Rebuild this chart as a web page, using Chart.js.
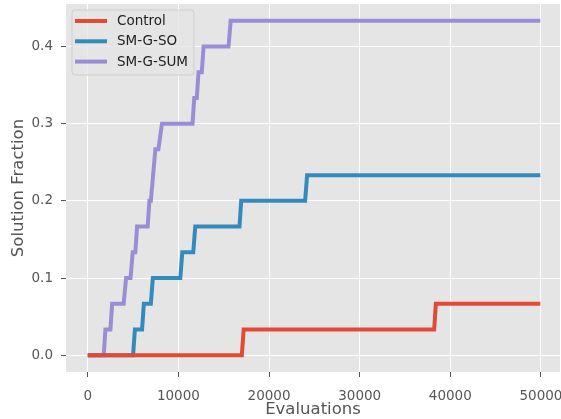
<!DOCTYPE html>
<html>
<head>
<meta charset="utf-8">
<script src="https://cdn.jsdelivr.net/npm/chart.js@4/dist/chart.umd.min.js"></script>
<style>
  html, body { margin: 0; padding: 0; background: #ffffff; }
  #wrap { width: 561px; height: 419px; }
</style>
</head>
<body>
<div id="wrap"><canvas id="c" width="561" height="419"></canvas></div>
<script>
// ---- data ----
const seriesNames = ["Control", "SM-G-SO", "SM-G-SUM"];
const seriesColors = ["#E24A33", "#348ABD", "#988ED5"];

const controlEvals = [0, 17000, 17200, 38220, 38400, 49930];
const controlFrac  = [0, 0, 0.0333, 0.0333, 0.0667, 0.0667];

const soEvals = [0, 5000, 5200, 5990, 6190, 6960, 7180, 10210, 10430, 11640, 11860, 16740, 16930, 23980, 24200, 49930];
const soFrac  = [0, 0, 0.0333, 0.0333, 0.0667, 0.0667, 0.1, 0.1, 0.1333, 0.1333, 0.1667, 0.1667, 0.2, 0.2, 0.2333, 0.2333];

const sumEvals = [0, 1760, 1950, 2500, 2690, 3960, 4230, 4720, 4960, 5250, 5440, 6610, 6800, 6960, 7460, 7790, 8190, 11560, 11750, 12030, 12220, 12580, 12780, 15530, 15770, 49930];
const sumFrac  = [0, 0, 0.0333, 0.0333, 0.0667, 0.0667, 0.1, 0.1, 0.1333, 0.1333, 0.1667, 0.1667, 0.2, 0.2, 0.2667, 0.2667, 0.3, 0.3, 0.3333, 0.3333, 0.3667, 0.3667, 0.4, 0.4, 0.4333, 0.4333];

const xTicks = [0, 10000, 20000, 30000, 40000, 50000];
const yTicks = [0.0, 0.1, 0.2, 0.3, 0.4];
const xLabel = "Evaluations";
const yLabel = "Solution Fraction";

// ---- build chart ----
function pts(xs, ys) { return xs.map((x, i) => ({ x: x, y: ys[i] })); }
const evalLists = [controlEvals, soEvals, sumEvals];
const fracLists = [controlFrac, soFrac, sumFrac];

const datasets = seriesNames.map((name, i) => ({
  label: name,
  data: pts(evalLists[i], fracLists[i]),
  borderColor: seriesColors[i],
  backgroundColor: seriesColors[i],
  borderWidth: 4,
  pointRadius: 0,
  fill: false,
  tension: 0,
  borderCapStyle: 'butt',
  borderJoinStyle: 'miter'
}));

const FONT = "'DejaVu Sans', sans-serif";

const bgPlugin = {
  id: 'plotBg',
  beforeDraw(chart) {
    const { ctx, chartArea: a } = chart;
    ctx.save();
    ctx.fillStyle = '#E5E5E5';
    ctx.fillRect(a.left, a.top, a.right - a.left, a.bottom - a.top);
    ctx.restore();
  }
};

const legendPlugin = {
  id: 'boxLegend',
  afterDraw(chart) {
    const ctx = chart.ctx;
    const x0 = 72, y0 = 10, w = 122, h = 65, r = 3;
    ctx.save();
    ctx.beginPath();
    ctx.moveTo(x0 + r, y0);
    ctx.arcTo(x0 + w, y0, x0 + w, y0 + h, r);
    ctx.arcTo(x0 + w, y0 + h, x0, y0 + h, r);
    ctx.arcTo(x0, y0 + h, x0, y0, r);
    ctx.arcTo(x0, y0, x0 + w, y0, r);
    ctx.closePath();
    ctx.fillStyle = 'rgba(229,229,229,0.8)';
    ctx.fill();
    ctx.strokeStyle = '#CFCFCF';
    ctx.lineWidth = 1;
    ctx.stroke();
    ctx.font = "13.5px " + FONT;
    ctx.textBaseline = 'middle';
    ctx.textAlign = 'left';
    chart.data.datasets.forEach((ds, i) => {
      const y = 21 + i * 20.3;
      ctx.beginPath();
      ctx.moveTo(75, y);
      ctx.lineTo(107, y);
      ctx.strokeStyle = ds.borderColor;
      ctx.lineWidth = 4;
      ctx.stroke();
      ctx.fillStyle = '#222222';
      ctx.fillText(ds.label, 117, y + 0.5);
    });
    ctx.restore();
  }
};

function zeroPad(scale) {
  scale.paddingTop = 0; scale.paddingBottom = 0;
  scale.paddingLeft = 0; scale.paddingRight = 0;
}

new Chart(document.getElementById('c'), {
  type: 'line',
  data: { datasets: datasets },
  plugins: [bgPlugin, legendPlugin],
  options: {
    responsive: false,
    animation: false,
    devicePixelRatio: 1,
    layout: { padding: { top: 4, right: 1, left: 0, bottom: 0 } },
    plugins: { legend: { display: false }, tooltip: { enabled: false } },
    scales: {
      x: {
        type: 'linear',
        min: -2400,
        max: 52100,
        afterBuildTicks(scale) { scale.ticks = xTicks.map(v => ({ value: v })); },
        afterFit(scale) { scale.height = 47; zeroPad(scale); },
        border: { display: false },
        grid: { color: '#FFFFFF', lineWidth: 1, tickColor: '#555555', tickLength: 5, drawTicks: true },
        ticks: {
          color: '#555555',
          font: { family: FONT, size: 13.5 },
          padding: 11,
          maxRotation: 0,
          autoSkip: false,
          callback: (v) => String(v)
        },
        title: {
          display: true,
          text: xLabel,
          color: '#555555',
          font: { family: FONT, size: 16.5 },
          padding: { top: 0, bottom: -1 }
        }
      },
      y: {
        type: 'linear',
        min: -0.0217,
        max: 0.455,
        afterBuildTicks(scale) { scale.ticks = yTicks.map(v => ({ value: v })); },
        afterFit(scale) { scale.width = 66; zeroPad(scale); },
        border: { display: false },
        grid: { color: '#FFFFFF', lineWidth: 1, tickColor: '#555555', tickLength: 5, drawTicks: true },
        ticks: {
          color: '#555555',
          font: { family: FONT, size: 13.5 },
          padding: 8,
          autoSkip: false,
          callback: (v) => Number(v).toFixed(1)
        },
        title: {
          display: true,
          text: yLabel,
          color: '#555555',
          font: { family: FONT, size: 16.5 },
          padding: { top: 9, bottom: 0 }
        }
      }
    }
  }
});
</script>
</body>
</html>
